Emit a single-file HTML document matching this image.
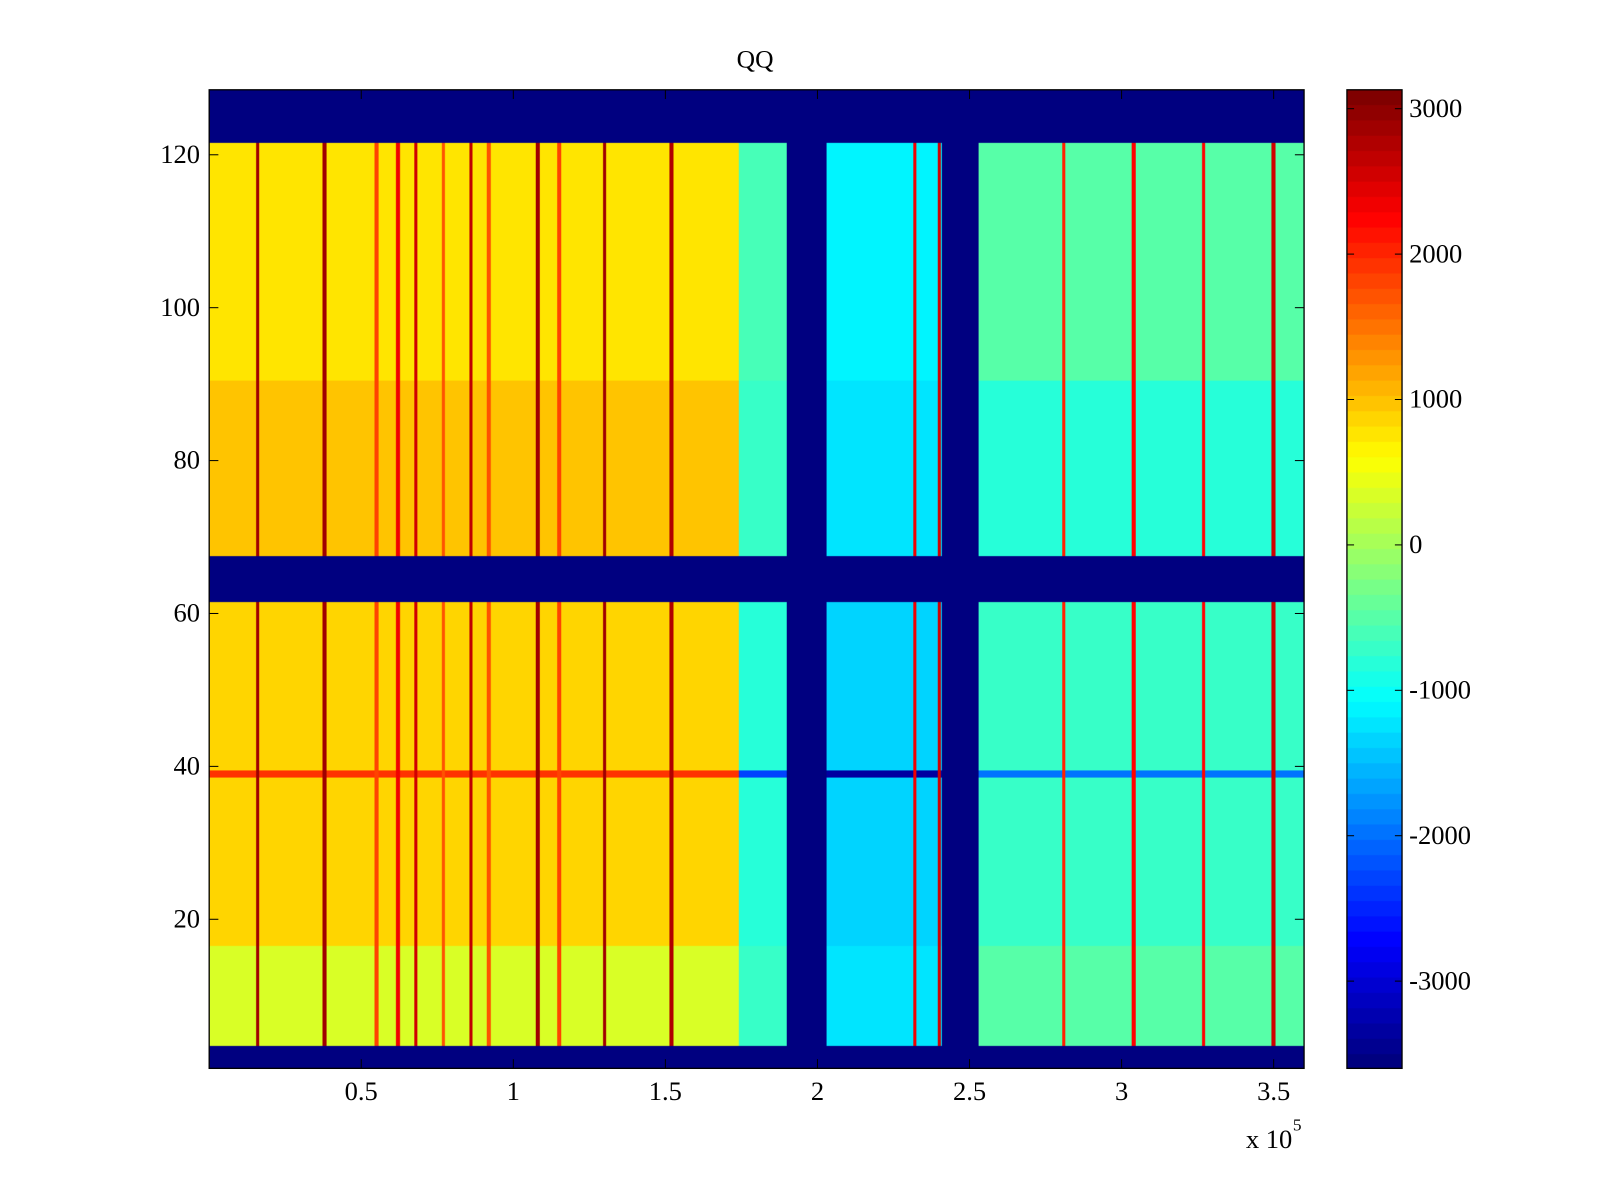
<!DOCTYPE html>
<html><head><meta charset="utf-8">
<style>
html,body{margin:0;padding:0;background:#fff;width:1600px;height:1200px;overflow:hidden;}
#wrap{position:relative;width:1568px;height:1176px;overflow:visible;font-family:"Liberation Serif",serif;transform:scale(1.0204);transform-origin:0 0;}
canvas{position:absolute;}
svg{position:absolute;left:0;top:0;}
</style></head>
<body>
<div id="wrap">
<canvas id="hm" width="1073" height="959" style="left:205px;top:88px"></canvas>
<canvas id="cb" width="54" height="959" style="left:1320px;top:88px"></canvas>
<svg id="ax" width="1568" height="1176"></svg>
</div>
<script>
// ---- data ----
const xTicks = [50000,100000,150000,200000,250000,300000,350000];
const xTickLabels = ["0.5","1","1.5","2","2.5","3","3.5"];
const yTicks = [20,40,60,80,100,120];
const cTicks = [3000,2000,1000,0,-1000,-2000,-3000];
// row bands (row index ranges)
const bandStart = [4,17,68,91];
const bandEnd = [16,61,90,121];
// column segments (x value ranges)
const segStart = [0,174000,190000,203000,241000,253000];
const segEnd = [174000,190000,203000,241000,253000,360000];
// level per segment per band
const levels = [
  [350,850,1000,750],
  [-700,-800,-700,-650],
  [-3600,-3600,-3600,-3600],
  [-1200,-1350,-1250,-1100],
  [-3600,-3600,-3600,-3600],
  [-450,-750,-800,-450]
];
// stripes
const stripeX = [16000,38000,55000,62000,68000,77000,86000,92000,108000,115000,130000,152000,190000,232000,240000,281000,304000,327000,350000];
const stripeVal = [2900,2900,1800,2300,2600,1700,2700,1700,2900,1800,2900,2800,2300,2300,2500,2000,2200,2200,2600];
// row 39 line
const lineRow = 39;
const lineSegVal = [1900,-2300,-3600,-3300,-3600,-2000];
const vmin = -3600, vmax = 3130;

// ---- scales ----
const X0=205,X1=1278,Y0=88,Y1=1047;
const xs = v => X0 + v/360000*(X1-X0);
const ys = r => Y1 - (r-0.5)/128*(Y1-Y0);
function jet(v){
  let t=(v-vmin)/(vmax-vmin); t=Math.max(0,Math.min(1,t)); t=Math.floor(t*63.999)/63;
  const c=x=>Math.round(255*Math.max(0,Math.min(1,x)));
  return `rgb(${c(1.5-Math.abs(4*t-3))},${c(1.5-Math.abs(4*t-2))},${c(1.5-Math.abs(4*t-1))})`;
}
// ---- heatmap ----
const ctx=document.getElementById('hm').getContext('2d');
ctx.fillStyle=jet(vmin);ctx.fillRect(0,0,1073,959);
for(let r=1;r<=128;r++){
  let b=-1;
  for(let i=0;i<bandStart.length;i++) if(r>=bandStart[i]&&r<=bandEnd[i]) b=i;
  if(b<0) continue;
  const yt=Math.round(ys(r+0.5)-Y0), yb=Math.round(ys(r-0.5)-Y0);
  for(let s=0;s<segStart.length;s++){
    let v = r===lineRow ? lineSegVal[s] : levels[s][b];
    ctx.fillStyle=jet(v);
    const xa=Math.round(xs(segStart[s])-X0), xb=Math.round(xs(segEnd[s])-X0);
    ctx.fillRect(xa,yt,xb-xa,yb-yt);
  }
  for(let k=0;k<stripeX.length;k++){
    let inBlank=false;
    for(let s=0;s<segStart.length;s++) if(levels[s][b]<=-3500 && stripeX[k]>=segStart[s] && stripeX[k]<segEnd[s]) inBlank=true;
    if(inBlank) continue;
    ctx.fillStyle=jet(stripeVal[k]);
    const xa=Math.round(xs(stripeX[k]-600)-X0), xb=Math.round(xs(stripeX[k]+600)-X0);
    ctx.fillRect(xa,yt,Math.max(2,xb-xa),yb-yt);
  }
}
// ---- colorbar ----
const cb=document.getElementById('cb').getContext('2d');
for(let i=0;i<64;i++){
  const v=vmin+(i+0.5)/64*(vmax-vmin);
  cb.fillStyle=jet(v);
  const y0=959-(i+1)/64*959, y1=959-i/64*959;
  cb.fillRect(0,Math.floor(y0),54,Math.ceil(y1)-Math.floor(y0));
}
// ---- axes svg ----
const svg=document.getElementById('ax');
const NS='http://www.w3.org/2000/svg';
function mk(tag,attrs,name,text){
  const e=document.createElementNS(NS,tag);
  for(const k in attrs) e.setAttribute(k,attrs[k]);
  
  
  if(text!==undefined) e.textContent=text;
  svg.appendChild(e); return e;
}
const FS=26;
mk('rect',{x:X0,y:Y0,width:X1-X0,height:Y1-Y0,fill:'none',stroke:'#000','stroke-width':1.3},'plot-frame');
xTicks.forEach((v,i)=>{
  const x=xs(v);
  mk('line',{x1:x,x2:x,y1:Y1,y2:Y1-9,stroke:'#000'},'x-tick');
  mk('line',{x1:x,x2:x,y1:Y0,y2:Y0+9,stroke:'#000'},'x-tick-top');
  mk('text',{x:x,y:1078,'font-size':FS,'text-anchor':'middle','font-family':'Liberation Serif, serif'},'x-tick-label',xTickLabels[i]);
});
yTicks.forEach(v=>{
  const y=ys(v);
  mk('line',{x1:X0,x2:X0+9,y1:y,y2:y,stroke:'#000'},'y-tick');
  mk('line',{x1:X1,x2:X1-9,y1:y,y2:y,stroke:'#000'},'y-tick-right');
  mk('text',{x:196,y:y+8,'font-size':FS,'text-anchor':'end','font-family':'Liberation Serif, serif'},'y-tick-label',String(v));
});
mk('text',{x:740,y:66,'font-size':25,'text-anchor':'middle','font-family':'Liberation Serif, serif'},'chart-title','QQ');
mk('text',{x:1221,y:1125,'font-size':FS,'font-family':'Liberation Serif, serif'},'x-axis-multiplier','x 10');
mk('text',{x:1267,y:1108,'font-size':17,'font-family':'Liberation Serif, serif'},'x-axis-exponent','5');
const CB0=1320,CB1=1374;
mk('rect',{x:CB0,y:Y0,width:CB1-CB0,height:Y1-Y0,fill:'none',stroke:'#000','stroke-width':1.3},'colorbar-frame');
const cs=v=>Y1-(v-vmin)/(vmax-vmin)*(Y1-Y0);
cTicks.forEach(v=>{
  const y=cs(v);
  mk('line',{x1:CB0,x2:CB0+7,y1:y,y2:y,stroke:'#000'},'colorbar-tick');
  mk('line',{x1:CB1,x2:CB1-7,y1:y,y2:y,stroke:'#000'},'colorbar-tick-right');
  mk('text',{x:1381,y:y+8,'font-size':FS,'font-family':'Liberation Serif, serif'},'colorbar-tick-label',String(v));
});
</script>
</body></html>
